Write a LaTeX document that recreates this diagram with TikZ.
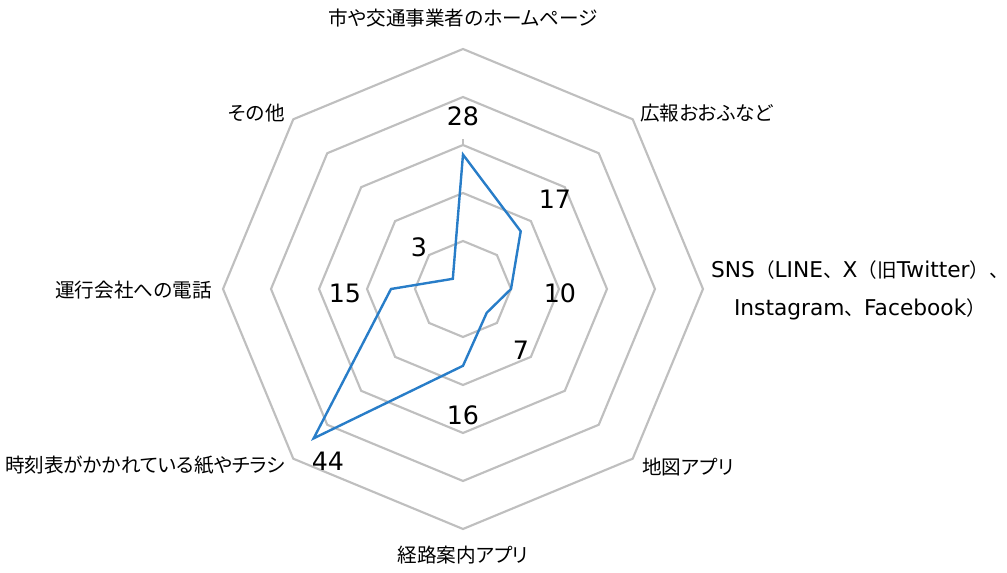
\documentclass[tikz,border=0pt]{standalone}
\usepackage{fontspec}
\setmainfont{Noto Sans CJK JP}[RawFeature=+palt]
\newfontfamily\latinfont{DejaVu Sans}
\newfontfamily\widefont{Noto Sans CJK JP}
\usetikzlibrary{positioning}
\definecolor{ringgray}{RGB}{191,191,191}
\definecolor{seriesblue}{RGB}{40,125,200}
\newcommand{\lat}[1]{{\latinfont\fontsize{16.3}{28.5}\selectfont #1}}
\tikzset{
    ring/.style={
                draw=ringgray,
                line width=1.6pt,
                line join=miter
            },
        series/.style={
                draw=seriesblue,
                line width=1.8pt,
                line join=miter
            },
        axislabel/.style={
                font=\fontsize{14.7}{28.5}\selectfont,
                inner sep=0pt,
                align=center
            },
        valuelabel/.style={
                font=\latinfont\fontsize{19}{22}\selectfont,
                inner sep=0pt
            },
}

\begin{document}
\begin{tikzpicture}[x=0.75pt,y=0.75pt]
\useasboundingbox (-463,-284) rectangle (544,289);
% Rings
\foreach \r in {48,96,144,192,240}
  \draw[ring] (90:\r) -- (45:\r) -- (0:\r) -- (-45:\r) -- (-90:\r) -- (-135:\r) -- (180:\r) -- (135:\r) -- cycle;
\draw[ring] (90:144) -- (90:150);
% Series
\coordinate (home) at (90:134.4);
\coordinate (koho) at (45:81.6);
\coordinate (sns) at (0:48);
\coordinate (map) at (-45:33.6);
\coordinate (route) at (-90:76.8);
\coordinate (paper) at (-135:211.2);
\coordinate (phone) at (180:72);
\coordinate (other) at (135:14.4);
\draw[series] (home) -- (koho) -- (sns) -- (map) -- (route) -- (paper) -- (phone) -- (other) -- cycle;
% Axis labels
\node[axislabel] (homelabel) at (0,271) {市や交通事業者のホームページ};
\node[axislabel,anchor=west] (kohelabel) at (177,176) {広報おおふなど};
\node[axislabel,font=\widefont\fontsize{14.7}{28.5}\selectfont] (snslabel) at (397,-1) {\lat{SNS}（\lat{LINE}、\lat{X}（旧\lat{Twitter}）、\\\lat{Instagram}、\lat{Facebook}）};
\node[axislabel,anchor=west] (maplabel) at (179,-178) {地図アプリ};
\node[axislabel] (routelabel) at (0,-266) {経路案内アプリ};
\node[axislabel,anchor=east] (paperlabel) at (-178,-176) {時刻表がかかれている紙やチラシ};
\node[axislabel,anchor=east] (phonelabel) at (-251,-1) {運行会社への電話};
\node[axislabel,anchor=east] (otherlabel) at (-178,176) {その他};
% Values
\node[valuelabel] (homeval) at (0,173) {28};
\node[valuelabel] (kohoval) at (92,90) {17};
\node[valuelabel] (snsval) at (97,-4) {10};
\node[valuelabel] (mapval) at (58,-61) {7};
\node[valuelabel] (routeval) at (0,-126) {16};
\node[valuelabel] (paperval) at (-135,-172) {44};
\node[valuelabel] (phoneval) at (-118,-4) {15};
\node[valuelabel] (otherval) at (-44,42) {3};
\end{tikzpicture}
\end{document}
